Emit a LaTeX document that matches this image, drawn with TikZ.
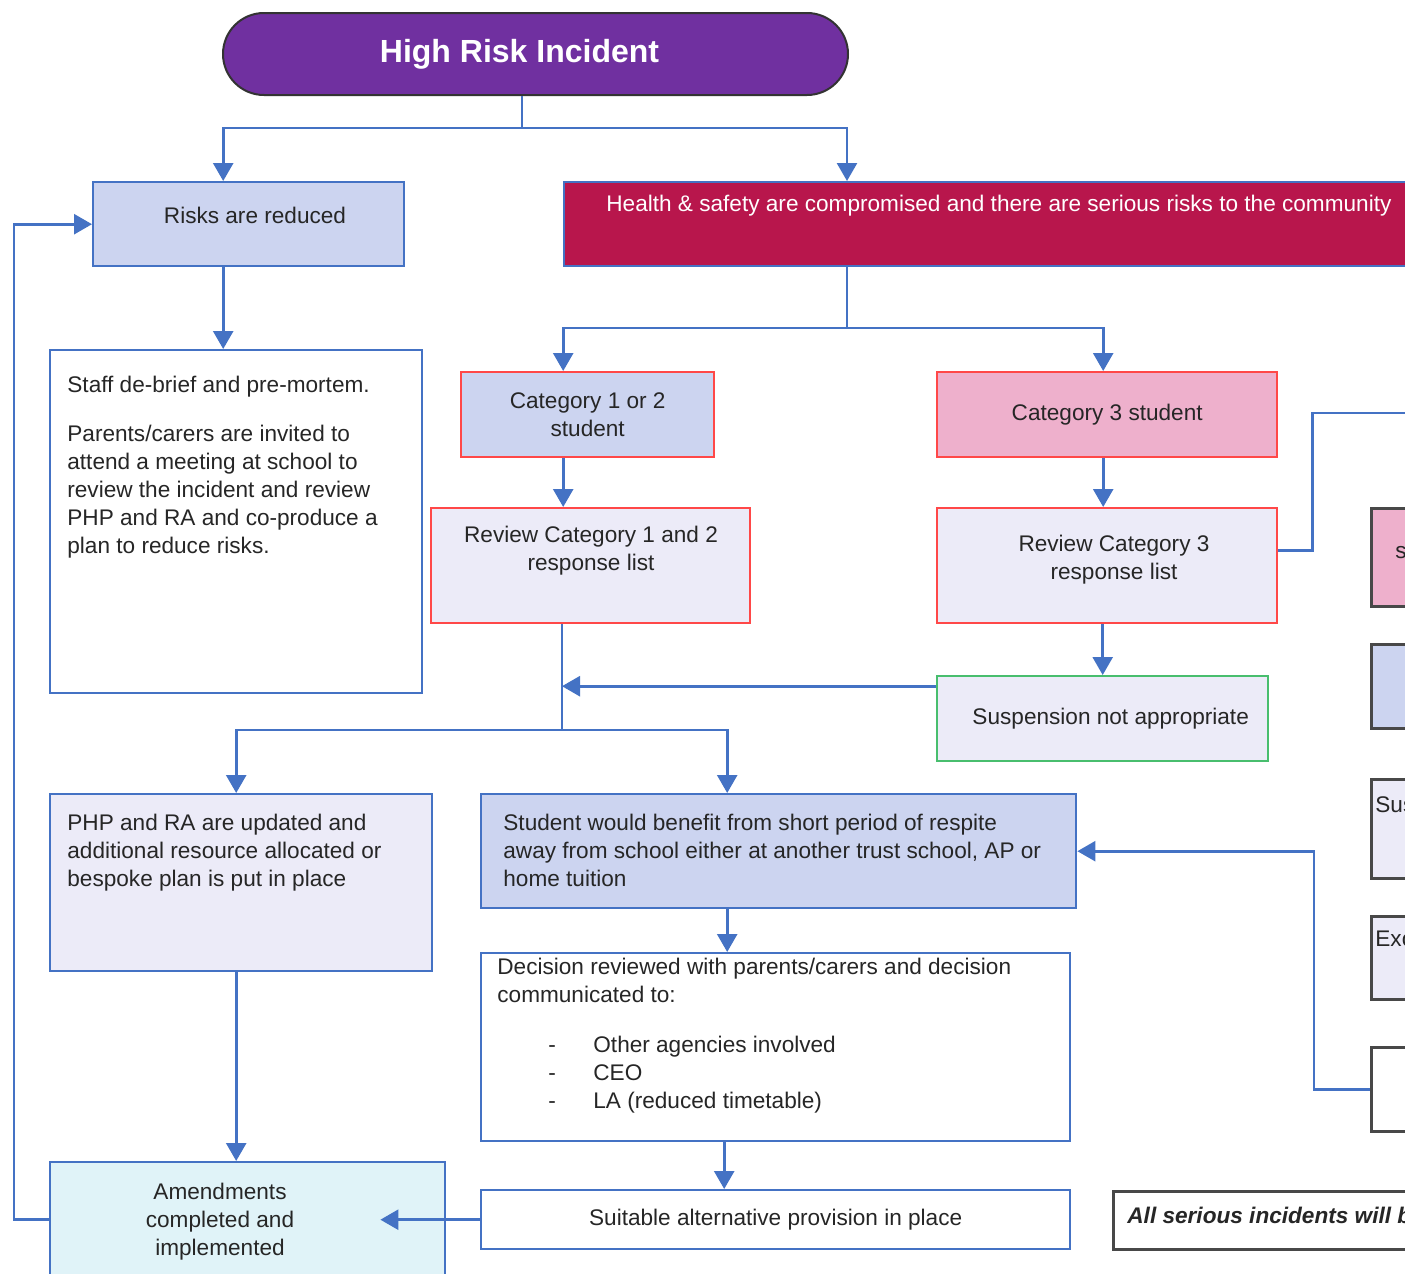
\documentclass[tikz,border=0pt]{standalone}
\usepackage{fontspec}
\setmainfont{Liberation Sans}
\definecolor{titlepurple}{RGB}{112, 48, 160}
\definecolor{hscrimson}{RGB}{184, 22, 76}
\definecolor{periwinkle}{RGB}{204, 212, 240}
\definecolor{lavender}{RGB}{236, 235, 248}
\definecolor{catpink}{RGB}{238, 176, 204}
\definecolor{paleblue}{RGB}{224, 243, 248}
\definecolor{linkblue}{RGB}{68, 114, 196}
\definecolor{edgered}{RGB}{255, 72, 72}
\definecolor{edgegreen}{RGB}{72, 190, 110}
\definecolor{edgegrey}{RGB}{72, 72, 72}
\usepackage{tikz}
\usetikzlibrary{arrows.meta, positioning, calc}
\newcommand\flowfont{\fontsize{11.3}{14}\selectfont}
\newcommand\titlefont{\fontsize{16}{19}\selectfont\bfseries}

\begin{document}
\begin{tikzpicture}[x=0.5pt, y=-0.5pt,
    box/.style={draw, line width=1.2pt, anchor=north west, inner sep=0pt, font=\flowfont, text=black!85, align=center},
    bluebox/.style={box, draw=linkblue},
    redbox/.style={box, draw=edgered},
    greybox/.style={box, draw=edgegrey, line width=1.4pt},
    txt/.style={inner sep=0pt, font=\flowfont, text=black!85, align=left},
    conn/.style={draw=linkblue, line width=1.3pt},
    connarrow/.style={conn, -{Triangle[width=10pt, length=9pt]}}]
                \useasboundingbox (0,0) rectangle (1405,1274);
                \fill[white] (0,0) rectangle (1405,1274);
                \clip (0,0) rectangle (1405,1274);

                % Title node
                \node[box, draw=black!80, line width=1pt, fill=titlepurple, rounded corners=20.5pt, minimum width=312.5pt, minimum height=41pt, text=white, font=\titlefont] (title) at (222,12) {\hspace*{-16pt}High Risk Incident};

                % First row
                \node[bluebox, fill=periwinkle, minimum width=155.5pt, minimum height=42pt] (risks) at (92,181) {};
                \node[txt] (risks-t) at (255,215) {Risks are reduced};
                \node[bluebox, fill=hscrimson, minimum width=468.5pt, minimum height=42pt] (hs) at (563,181) {};
                \node[txt, text=white, anchor=north west] (hs-t) at (606,195) {Health \& safety are compromised and there are serious risks to the community};

                % Left column
                \node[bluebox, fill=white, minimum width=186pt, minimum height=171.5pt] (staff) at (49,349) {};
                \node[txt, anchor=north west] (staff-t) at (67,376) {Staff de-brief and pre-mortem.\\[10.5pt] Parents/carers are invited to\\ attend a meeting at school to\\ review the incident and review\\ PHP and RA and co-produce a\\ plan to reduce risks.};
                \node[bluebox, fill=lavender, minimum width=191pt, minimum height=88.5pt] (php) at (49,793) {};
                \node[txt, anchor=north west] (php-t) at (67,814) {PHP and RA are updated and\\ additional resource allocated or\\ bespoke plan is put in place};
                \node[bluebox, fill=paleblue, minimum width=197.5pt, minimum height=64.5pt] (amend) at (49,1161) {};
                \node[txt, align=center] (amend-t) at (220,1222) {Amendments\\ completed and\\ implemented};

                % Category boxes
                \node[redbox, fill=periwinkle, minimum width=126.5pt, minimum height=42.5pt] (cat12) at (460,371) {Category 1 or 2\\ student};
                \node[redbox, fill=lavender, minimum width=159.5pt, minimum height=57.5pt] (rev12) at (430,507) {};
                \node[txt, align=center] (rev12-t) at (591,551) {Review Category 1 and 2\\ response list};
                \node[redbox, fill=catpink, minimum width=170pt, minimum height=42.5pt] (cat3) at (936,371) {Category 3 student};
                \node[redbox, fill=lavender, minimum width=170pt, minimum height=57.5pt] (rev3) at (936,507) {};
                \node[txt, align=center] (rev3-t) at (1114,560) {Review Category 3\\ response list};
                \node[box, draw=edgegreen, fill=lavender, minimum width=165.5pt, minimum height=42.5pt] (susp) at (936,675) {\hspace*{8pt}Suspension not appropriate};

                % Respite boxes
                \node[bluebox, fill=periwinkle, minimum width=297.5pt, minimum height=57pt] (student) at (480,793) {};
                \node[txt, anchor=north west] (student-t) at (503,814) {Student would benefit from short period of respite\\ away from school either at another trust school, AP or\\ home tuition};
                \node[bluebox, fill=white, minimum width=294.5pt, minimum height=94pt] (decision) at (480,952) {};
                \node[txt, anchor=north west] (decision-t) at (497,958) {Decision reviewed with parents/carers and decision\\ communicated to:\\[11pt]
                    \hspace*{25.5pt}\makebox[22.5pt][l]{-}Other agencies involved\\
                    \hspace*{25.5pt}\makebox[22.5pt][l]{-}CEO\\
                    \hspace*{25.5pt}\makebox[22.5pt][l]{-}LA (reduced timetable)};
                \node[bluebox, fill=white, minimum width=294.5pt, minimum height=29.5pt] (suitable) at (480,1189) {Suitable alternative provision in place};

                % Right edge (cut off)
                \node[greybox, fill=catpink, minimum width=100pt, minimum height=49pt] (rpink) at (1370,507) {};
                \node[txt, anchor=west] (rpink-t) at (1395,553) {s};
                \node[greybox, fill=periwinkle, minimum width=100pt, minimum height=42pt] (rblue) at (1370,643) {};
                \node[greybox, fill=lavender, minimum width=100pt, minimum height=49.5pt] (rsus) at (1370,778) {};
                \node[txt, anchor=north west] (rsus-t) at (1375,796) {Sus};
                \node[greybox, fill=lavender, minimum width=100pt, minimum height=41.5pt] (rexc) at (1370,915) {};
                \node[txt, anchor=north west] (rexc-t) at (1375,931) {Exc};
                \node[greybox, fill=white, minimum width=100pt, minimum height=42pt] (rwhite) at (1370,1046) {};
                \node[greybox, fill=white, minimum width=200pt, minimum height=29pt] (note) at (1112,1190) {};
                \node[txt, anchor=north west, font=\flowfont\bfseries\itshape] (note-t) at (1127,1207) {All serious incidents will b};

                % Bus points
                \coordinate (topbus) at (522,128);
                \coordinate (midbus) at (847,328);
                \coordinate (lowbus) at (562,730);
                \coordinate (offright) at (1420,413);

                % Arrows
                \draw[conn] (title.south -| topbus) -- (topbus);
                \draw[connarrow] (topbus) -| ([xshift=-12.75pt]risks.north);
                \draw[connarrow] (topbus) -| ([xshift=142pt]hs.north west);
                \draw[connarrow] ([xshift=-12.75pt]risks.south) -- ([xshift=-12.75pt]risks.south |- staff.north);
                \draw[conn] ([xshift=142pt]hs.south west) -- (midbus);
                \draw[connarrow] (midbus) -| ([xshift=-12.25pt]cat12.north);
                \draw[connarrow] (midbus) -| ([xshift=-2pt]cat3.north);
                \draw[connarrow] ([xshift=-12.25pt]cat12.south) -- ([xshift=-12.25pt]cat12.south |- rev12.north);
                \draw[connarrow] ([xshift=-2pt]cat3.south) -- ([xshift=-2pt]cat3.south |- rev3.north);
                \draw[connarrow] (susp.north |- rev3.south) -- (susp.north);
                \draw[conn] ([yshift=7.75pt]rev3.east) -- ++(34,0) |- (offright);
                \draw[connarrow] ([yshift=16.25pt]susp.west) -- ([yshift=16.25pt]susp.west -| lowbus);
                \draw[conn] (rev12.south -| lowbus) -- (lowbus);
                \draw[connarrow] (lowbus) -| ([xshift=-2.5pt]php.north);
                \draw[connarrow] (lowbus) -| ([xshift=-25.75pt]student.north);
                \draw[connarrow] ([xshift=-25.75pt]student.south) -- ([xshift=-25.75pt]student.south |- decision.north);
                \draw[connarrow] ([xshift=-25.75pt]decision.south) -- ([xshift=-25.75pt]decision.south |- suitable.north);
                \draw[connarrow] (suitable.west) -- ([xshift=-33pt]suitable.west -| amend.east);
                \draw[connarrow] ([xshift=-2.5pt]php.south) -- ([xshift=-2.5pt]php.south |- amend.north);
                \draw[connarrow] (amend.west |- suitable.west) -- ++(-35,0) |- (risks.west);
                \draw[connarrow] (rwhite.west) -- ++(-56,0) |- (student.east);
            \end{tikzpicture}
\end{document}
